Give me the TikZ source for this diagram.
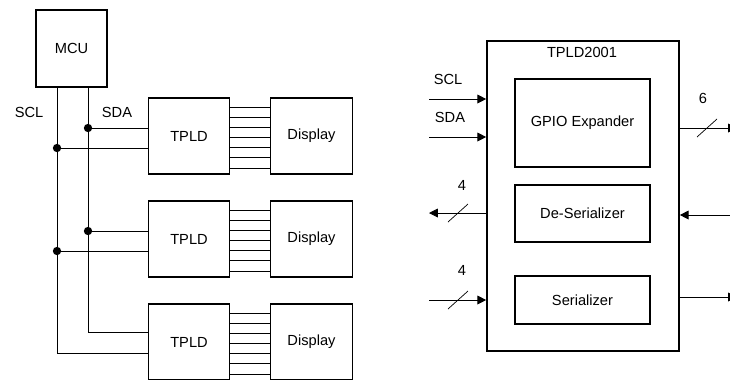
\documentclass[tikz,border=0pt]{standalone}
\usepackage{fontspec}
\setmainfont{Liberation Sans}
\usetikzlibrary{positioning,arrows.meta}

\begin{document}
\begin{tikzpicture}[
    x=0.03cm, y=-0.03cm,
    >={Triangle[length=7.5pt,width=7.5pt]},
    font=\fontsize{12.5}{14}\selectfont,
    block/.style={
        draw,
        line width=1pt,
        inner sep=0pt,
        minimum width=2.45cm,
        minimum height=2.28cm
    },
    chip/.style={
        draw,
        line width=1.4pt,
        inner sep=0pt,
        minimum width=5.76cm,
        minimum height=9.3cm
    },
    unit/.style={
        draw,
        line width=1pt,
        inner sep=0pt,
        minimum width=4.05cm
    },
    wire/.style={line width=0.7pt},
    arrow/.style={->, line width=0.7pt},
    dot/.style={circle, fill, inner sep=0pt, minimum size=0.25cm},
    slash/.style={line width=0.6pt}
]

\useasboundingbox (0,0) rectangle (730,379);
\clip (0,0) rectangle (730,379);

% MCU
\node[block, minimum width=2.13cm, minimum height=2.31cm] (mcu) at (71.5,48.5) {MCU};

\node (scl) at (29,112) {SCL};
\node (sda) at (117,112) {SDA};

% TPLD + DISPLAY
\node[block] (tpld1) at (189,136) {TPLD};
\node[block] (disp1) at (311.5,136) {Display};

\node[block] (tpld2) at (189,239) {TPLD};
\node[block] (disp2) at (311.5,239) {Display};

\node[block] (tpld3) at (189,342) {TPLD};
\node[block] (disp3) at (311.5,342) {Display};

\foreach \n in {1,2,3}
    \foreach \k in {-3,...,3}
        \draw[wire] ([yshift=-\k*8.67pt-1.3pt]tpld\n.east)
            -- ([yshift=-\k*8.67pt-1.3pt]disp\n.west);

% I2C BUS
\coordinate (sclend) at (57,353);
\coordinate (sdaend) at (88,332);

\node[dot] (sda1) at (88,128) {};
\node[dot] (scl1) at (57,148) {};
\node[dot] (sda2) at (88,231) {};
\node[dot] (scl2) at (57,251) {};

\draw[wire] (mcu.south -| sclend) -- (sclend) -- (tpld3.west |- sclend);
\draw[wire] (mcu.south -| sdaend) -- (sdaend) -- (tpld3.west |- sdaend);

\draw[wire] (sda1) -- (tpld1.west |- sda1);
\draw[wire] (scl1) -- (tpld1.west |- scl1);
\draw[wire] (sda2) -- (tpld2.west |- sda2);
\draw[wire] (scl2) -- (tpld2.west |- scl2);

% TPLD2001
\node[chip] (chip) at (583,196) {};
\node (chipname) at (582,52) {TPLD2001};

\node[unit, minimum height=2.64cm] (gpio) at (582.5,123) {GPIO Expander};
\node[unit, minimum height=1.71cm] (deser) at (582.5,213.5) {De-Serializer};
\node[unit, minimum height=1.44cm] (ser) at (582.5,300) {Serializer};

% INPUTS / OUTPUTS
\coordinate (sclin) at (429,99);
\coordinate (sdain) at (429,137);
\coordinate (parout) at (429,213);
\coordinate (parin) at (429,300);
\coordinate (gpioout) at (737,128);
\coordinate (serin) at (731,215);
\coordinate (serout) at (737,297);

\node (scllbl) at (448,79) {SCL};
\node (sdalbl) at (450,117) {SDA};

\draw[arrow] (sclin) -- (chip.west |- sclin);
\draw[arrow] (sdain) -- (chip.west |- sdain);
\draw[arrow] (chip.west |- parout) -- (parout);
\draw[arrow] (parin) -- (chip.west |- parin);
\draw[arrow] (chip.east |- gpioout) -- (gpioout);
\draw[arrow] (serin) -- (chip.east |- serin);
\draw[arrow] (chip.east |- serout) -- (serout);

% BUS WIDTHS
\draw[slash] (458,213) ++(-10,9) -- ++(20,-18);
\draw[slash] (458,300) ++(-10,9) -- ++(20,-18);
\draw[slash] (707,128) ++(-10,9) -- ++(20,-18);

\node (w4a) at (462,185) {4};
\node (w4b) at (462,270) {4};
\node (w6) at (703,98) {6};

\end{tikzpicture}
\end{document}
